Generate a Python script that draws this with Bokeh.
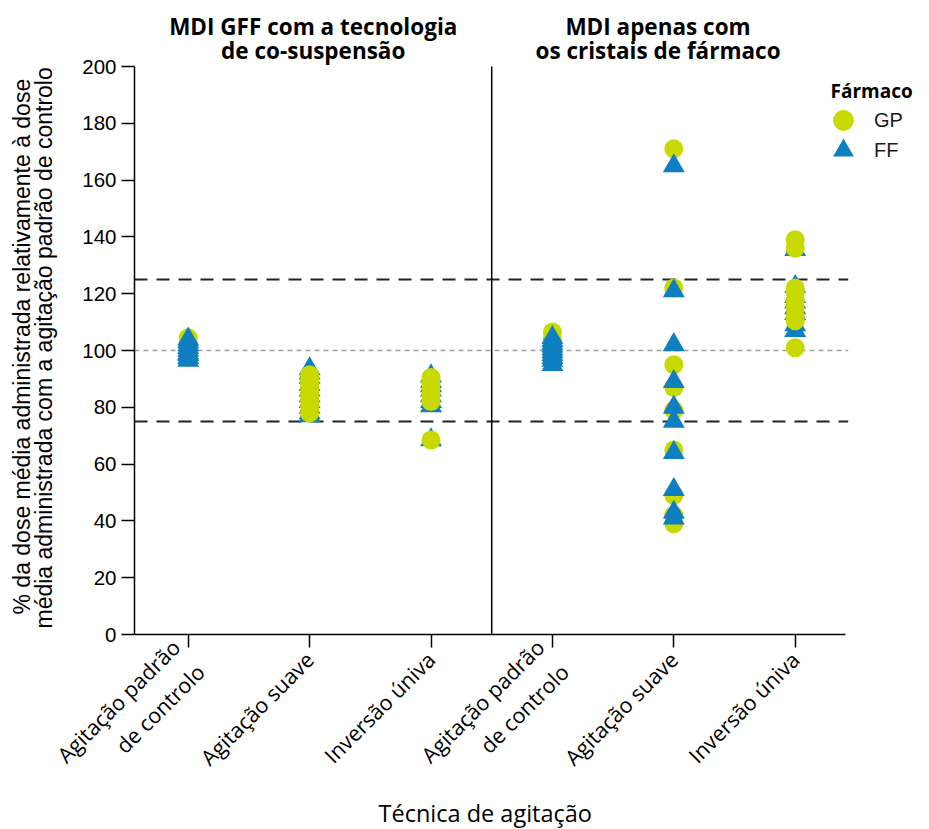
import math
from bokeh.plotting import figure
from bokeh.models import (Range1d, FixedTicker, Label, Legend, LegendItem, Title,
                          ColumnDataSource)
from bokeh.embed import file_html
from bokeh.resources import INLINE

# ---- data ----
categories = ["Agitação padrão\nde controlo", "Agitação suave", "Inversão úniva",
              "Agitação padrão\nde controlo", "Agitação suave", "Inversão úniva"]
panel_titles = [["MDI GFF com a tecnologia", "de co-suspensão"],
                ["MDI apenas com", "os cristais de fármaco"]]
y_title_lines = ["% da dose média administrada relativamente à dose",
                 "média administrada com a agitação padrão de controlo"]
x_title = "Técnica de agitação"
y_ticks = [0, 20, 40, 60, 80, 100, 120, 140, 160, 180, 200]
ref_lines = [75, 125]
ref_center = 100

gp_g1 = [104.5, 103, 101.5, 100, 99, 98, 97.5]
ff_g1 = [104, 103, 102, 101, 100, 99, 98.5, 97.5, 96.5]
gp_g2 = [91.5, 90, 88.5, 87, 85, 83.5, 82, 80, 78]
ff_g2 = [93.5, 92, 90.5, 88, 86, 84, 82, 80, 78, 77]
gp_g3 = [90.5, 88.5, 86.5, 84.5, 82, 68.5]
ff_g3 = [91, 89, 87.5, 86, 84, 82, 80.5, 68.5]
gp_g4 = [106.5, 104, 102.5, 101, 100, 99, 98]
ff_g4 = [104.5, 103.5, 102.5, 101.5, 100.5, 99.5, 98.5, 97.5, 96.5, 95]
gp_g5 = [171, 122, 95, 87, 79, 65, 49, 42, 39]
ff_g5 = [165, 121, 102, 89, 80, 75, 64, 51, 43, 41]
gp_g6 = [139, 136, 122, 120.5, 117.5, 115, 112, 110.5, 101]
ff_g6 = [135.5, 122.5, 119, 117, 115, 113, 109, 107]

GP_COLOR = "#C8D900"
FF_COLOR = "#0E7FC0"

# ---- layout constants ----
W, H = 913, 829
BORDER_L = 134          # frame left edge (px)
FRAME_BOTTOM = 634      # px from top
BORDER_B = H - FRAME_BOTTOM
PX_PER_X = 121.4
PX_PER_Y = 2.84
X_LO = 1 - (187.7 - BORDER_L) / PX_PER_X
X_AXIS_END = 6 + (845 - 795) / PX_PER_X
X_LINE_END = 6 + (848 - 795) / PX_PER_X
Y_LO, Y_HI = 0, 200
x_end = X_LO + (W - BORDER_L) / PX_PER_X
y_end = Y_LO + FRAME_BOTTOM / PX_PER_Y


def build(groups):
    xs, ys = [], []
    for gi, vals in groups:
        xs += [gi] * len(vals)
        ys += list(vals)
    return ColumnDataSource(dict(x=xs, y=ys))


gp_under = build([(1, gp_g1), (4, gp_g4), (5, gp_g5)])
ff_all = build([(1, ff_g1), (2, ff_g2), (3, ff_g3), (4, ff_g4), (5, ff_g5), (6, ff_g6)])
gp_over = build([(2, gp_g2), (3, gp_g3), (6, gp_g6)])

p = figure(width=W, height=H, output_backend="svg", toolbar_location=None,
           x_range=Range1d(X_LO, x_end), y_range=Range1d(Y_LO, y_end),
           min_border_left=BORDER_L, min_border_right=0, min_border_top=0,
           min_border_bottom=BORDER_B)
p.outline_line_color = None
p.xgrid.visible = False
p.ygrid.visible = False
p.background_fill_color = "white"
p.border_fill_color = "white"

# reference lines
p.segment(x0=[X_LO] * len(ref_lines), x1=[X_LINE_END] * len(ref_lines), y0=ref_lines, y1=ref_lines,
          line_color="#222222", line_width=2, line_dash="13 9")
p.segment(x0=[X_LO], x1=[X_LINE_END], y0=[ref_center], y1=[ref_center],
          line_color="#A0A0A0", line_width=1.5, line_dash="5 4")
p.segment(x0=[3.5], x1=[3.5], y0=[Y_LO], y1=[Y_HI], line_color="black", line_width=1.5)

r1 = p.scatter("x", "y", source=gp_under, marker="circle", size=19,
               fill_color=GP_COLOR, line_color=None)
r2 = p.scatter("x", "y", source=ff_all, marker="triangle", size=22,
               fill_color=FF_COLOR, line_color=None)
r3 = p.scatter("x", "y", source=gp_over, marker="circle", size=19,
               fill_color=GP_COLOR, line_color=None)

# axes
yax = p.yaxis[0]
yax.bounds = (Y_LO, Y_HI)
yax.ticker = FixedTicker(ticks=y_ticks)
yax.major_label_text_font = "Liberation Sans"
yax.major_label_text_font_size = "20.5px"
yax.major_label_text_color = "black"
yax.axis_line_width = 1.5
yax.major_tick_line_width = 1.5
yax.major_tick_out = 13
yax.major_tick_in = 0
yax.minor_tick_line_color = None

xax = p.xaxis[0]
xax.bounds = (X_LO, X_AXIS_END)
xax.ticker = FixedTicker(ticks=[1, 2, 3, 4, 5, 6])
xax.major_label_overrides = {i + 1: c for i, c in enumerate(categories)}
xax.major_label_orientation = math.pi / 4
xax.major_label_text_font = "Open Sans"
xax.major_label_text_font_size = "21.5px"
xax.major_label_text_color = "black"
xax.major_label_standoff = 8
xax.axis_line_width = 1.5
xax.major_tick_line_width = 1.5
xax.major_tick_out = 13
xax.major_tick_in = 0
xax.minor_tick_line_color = None

# axis titles as side-panel titles (positioned along the axis bounds)
p.add_layout(Title(text=y_title_lines[1], align="left", offset=6, standoff=45,
                   vertical_align="bottom", text_font="Liberation Sans",
                   text_font_size="23px", text_font_style="normal", text_color="black"), "left")
p.add_layout(Title(text=y_title_lines[0], align="left", offset=20, standoff=-57,
                   vertical_align="bottom", text_font="Liberation Sans",
                   text_font_size="23px", text_font_style="normal", text_color="black"), "left")
p.add_layout(Title(text=x_title, align="left", offset=378 - BORDER_L, standoff=-44,
                   vertical_align="top", text_font="Open Sans",
                   text_font_size="23.5px", text_font_style="normal", text_color="black"), "below")

# panel titles (one Label per line)
for xt, lines in zip([2.03, 4.87], panel_titles):
    for k, line in enumerate(lines):
        p.add_layout(Label(x=xt, y=(FRAME_BOTTOM - (26 + 24 * k)) / PX_PER_Y, text=line,
                           text_align="center", text_baseline="middle",
                           text_font="Open Sans", text_font_size="22.5px",
                           text_font_style="bold", text_color="black"))

# legend
p.add_layout(Label(x=X_LO + (830 - BORDER_L) / PX_PER_X, y=(FRAME_BOTTOM - 90) / PX_PER_Y,
                   text="Fármaco", text_align="left", text_baseline="middle",
                   text_font="Open Sans", text_font_size="19px", text_font_style="bold",
                   text_color="black"))
for lab, rend, ly in [("GP", r3, 488), ("FF", r2, 458)]:
    lg = Legend(items=[LegendItem(label=lab, renderers=[rend])],
                location=(683, ly), glyph_width=52, glyph_height=52,
                padding=0, margin=0, label_standoff=5,
                label_text_font="Liberation Sans", label_text_font_size="20px",
                label_text_color="#1a1a1a",
                border_line_alpha=0, background_fill_alpha=0)
    p.add_layout(lg, "center")

open("out.html", "w").write(file_html(p, INLINE))
